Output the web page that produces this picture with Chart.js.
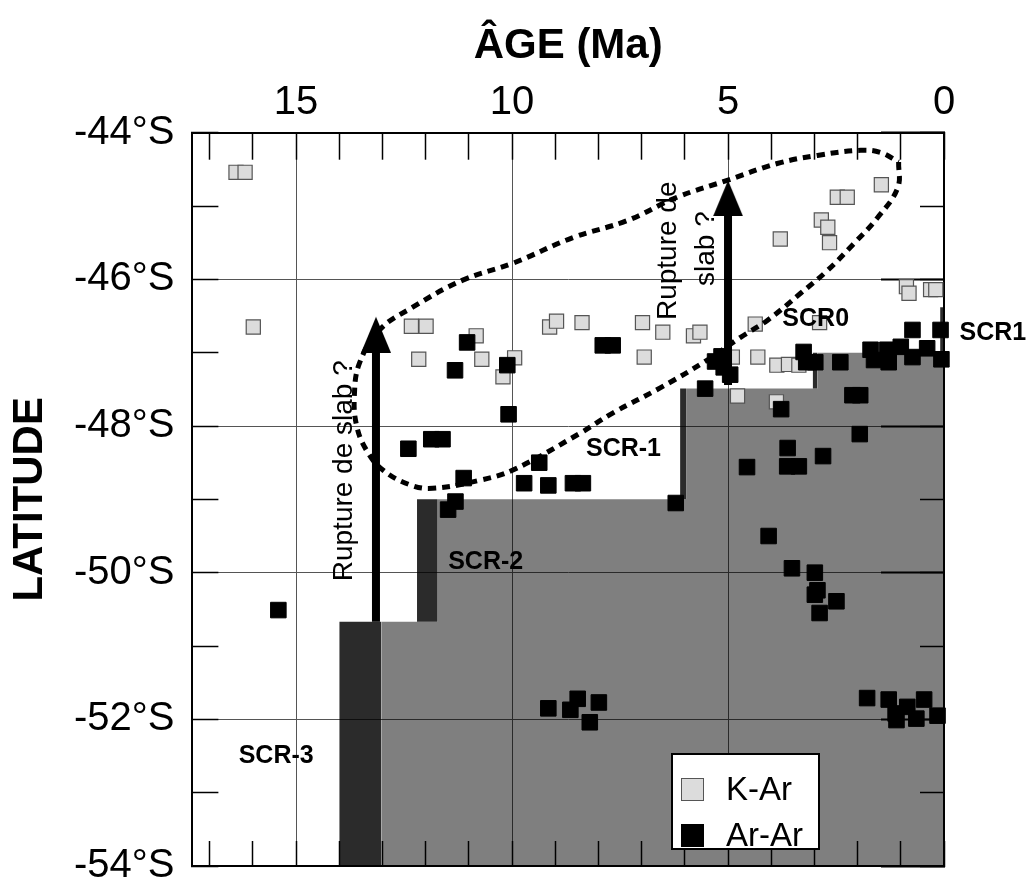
<!DOCTYPE html>
<html>
<head>
<meta charset="utf-8">
<script src="https://cdn.jsdelivr.net/npm/chart.js@4.4.1/dist/chart.umd.min.js"></script>
<style>
  html, body { margin: 0; background: #fff; overflow: hidden; }
  #wrap { position: relative; width: 1030px; height: 920px; }
  #legend {
    position: absolute; left: 671px; top: 753px; width: 149px; height: 97px;
    box-sizing: border-box; border: 2px solid #000; background: #fff;
    font-family: 'Liberation Sans', Arial, sans-serif; font-size: 33px; color: #000;
    padding: 11px 0 0 8px;
  }
  #legend div { display: flex; align-items: center; height: 46px; }
  #legend span.box { width: 23px; height: 23px; box-sizing: border-box; margin-right: 22px; }
</style>
</head>
<body>
<div id="wrap">
  <canvas id="chart" width="1030" height="920"></canvas>
  <div id="legend"></div>
</div>
<script>
// K-Ar ages (Ma) and latitudes (deg)
const kArAge = [16.39, 16.18, 15.99, 12.33, 11.99, 10.83, 12.16, 10.70, 9.94, 10.21,
  9.13, 8.97, 8.38, 6.98, 6.51, 6.94, 5.80, 5.65, 4.37, 2.88,
  0.87, 0.81, 0.31, 0.19, 4.31, 3.87, 3.60, 3.36, 4.90, 4.78,
  3.88, 1.45, 2.47, 2.24, 3.79, 2.84, 2.69, 2.65];
const kArLat = [-44.54, -44.54, -46.65, -46.64, -46.64, -46.77, -47.09, -47.09, -47.07, -47.33,
  -46.65, -46.57, -46.59, -46.59, -46.72, -47.06, -46.77, -46.72, -46.61, -46.59,
  -46.10, -46.19, -46.14, -46.14, -47.06, -47.17, -47.16, -47.17, -47.06, -47.59,
  -47.67, -44.71, -44.88, -44.88, -45.45, -45.19, -45.29, -45.50];

// Ar-Ar ages (Ma) and latitudes (deg)
const arArAge = [11.04, 11.32, 10.11, 10.08, 7.90, 7.67, 11.87, 11.61, 12.40, 11.12,
  9.37, 9.72, 9.16, 8.59, 8.36, 11.31, 11.48, 6.21, 15.41, 5.30,
  5.10, 4.95, 5.15, 5.53, 3.25, 3.19, 2.98, 2.40, 1.70, 1.62,
  1.31, 1.28, 1.00, 0.73, 0.73, 0.39, 0.08, 0.06, 2.12, 1.94,
  3.77, 1.95, 3.62, 2.80, 4.56, 3.63, 3.36, 4.06, 3.52, 2.99,
  2.99, 2.93, 2.49, 2.88, 9.16, 8.65, 8.48, 7.99, 8.20, 1.78,
  1.28, 1.12, 1.10, 0.85, 0.64, 0.46, 0.15];
const arArLat = [-46.86, -47.24, -47.17, -47.84, -46.90, -46.90, -48.18, -48.18, -48.31, -48.71,
  -48.50, -48.78, -48.81, -48.78, -48.78, -49.03, -49.14, -49.05, -50.51, -47.12,
  -47.20, -47.30, -47.05, -47.49, -46.99, -47.13, -47.13, -47.13, -46.96, -47.10,
  -46.96, -47.13, -46.92, -46.69, -47.06, -46.94, -46.69, -47.09, -47.58, -47.58,
  -47.77, -48.11, -48.30, -48.41, -48.56, -48.55, -48.55, -49.50, -49.94, -50.00,
  -50.30, -50.24, -50.39, -50.55, -51.85, -51.87, -51.72, -51.77, -52.04, -51.71,
  -51.73, -51.92, -52.01, -51.83, -51.99, -51.73, -51.95];

// slab window steps: light grey upper edge
const stepAge = [13.02, 11.72, 11.72, 5.97, 5.97, 2.93, 2.93, 0];
const stepLat = [-50.67, -50.67, -49.0, -49.0, -47.49, -47.49, -47.0, -47.0];

// dark strips SCR-3 .. SCR1
const stripFrom = [14.0, 12.2, 6.11, 3.04, 0.09];
const stripTo = [13.02, 11.72, 5.97, 2.93, 0];
const stripTop = [-50.67, -49.0, -47.49, -47.0, -46.38];
const stripBase = [-54, -50.67, -49.0, -47.49, -47.0];

// dotted envelope
const loopAge = [1.05, 1.07, 1.54, 2.10, 2.70, 3.32, 4.09, 4.71, 5.48, 6.57,
  7.66, 8.43, 9.98, 10.75, 11.84, 12.37, 12.99, 13.37, 13.60, 13.65,
  13.53, 13.07, 12.30, 11.14, 9.98, 8.59, 7.34, 6.18, 5.02, 3.86,
  2.93, 1.93, 1.47, 1.05];
const loopLat = [-44.40, -44.75, -45.16, -45.52, -45.88, -46.19, -46.56, -46.79, -47.10, -47.48,
  -47.82, -48.10, -48.60, -48.74, -48.85, -48.80, -48.60, -48.33, -47.99, -47.58,
  -47.14, -46.69, -46.38, -46.01, -45.78, -45.43, -45.20, -44.88, -44.65, -44.42,
  -44.31, -44.24, -44.27, -44.40];

// "Rupture de slab ?" arrows
const arrowAge = [13.15, 5.0];
const arrowBaseLat = [-50.67, -47.44];
const arrowTipLat = [-46.51, -44.65];

// annotations
const noteText = ['SCR-3', 'SCR-2', 'SCR-1', 'SCR0', 'SCR1', 'Rupture de slab ?', 'Rupture de', 'slab ?'];
const noteAge = [15.46, 10.61, 7.42, 2.97, -1.13, 13.88, 6.38, 5.50];
const noteLat = [-52.50, -49.86, -48.31, -46.54, -46.73, -48.61, -45.61, -45.58];
const noteBold = [true, true, true, true, true, false, false, false];
const noteAngle = [0, 0, 0, 0, 0, -90, -90, -90];

const FONT = "'Liberation Sans', Arial, Helvetica, sans-serif";
Chart.defaults.font.family = FONT;
Chart.defaults.color = '#000';

function pts(xs, ys) {
  return xs.map((v, i) => ({ x: v, y: ys[i] }));
}

function arrowHead() {
  const c = document.createElement('canvas');
  c.width = 30; c.height = 72;
  const g = c.getContext('2d');
  g.fillStyle = '#000';
  g.beginPath();
  g.moveTo(15, 36); g.lineTo(30, 72); g.lineTo(0, 72);
  g.closePath(); g.fill();
  return c;
}

const HEAD_DEG = 0.3;
const datasets = [];

arrowAge.forEach((a, i) => {
  datasets.push({
    data: [{ x: a, y: arrowBaseLat[i] }, { x: a, y: arrowTipLat[i] - HEAD_DEG }],
    borderColor: '#000', borderWidth: 8, borderCapStyle: 'butt',
    pointRadius: 0, fill: false, order: 0
  });
});
datasets.push({
  data: pts(arrowAge, arrowTipLat), showLine: false,
  pointStyle: arrowHead(), pointRadius: 10, order: 0, clip: false
});
datasets.push({
  label: 'Ar-Ar', data: pts(arArAge, arArLat), showLine: false,
  pointStyle: 'rect', pointRadius: 11, pointBackgroundColor: '#000',
  pointBorderColor: '#000', pointBorderWidth: 1,
  backgroundColor: '#000', borderColor: '#000', order: 1, clip: false
});
datasets.push({
  data: pts(loopAge, loopLat), borderColor: '#000', borderWidth: 5,
  borderDash: [8, 6], tension: 0.4, pointRadius: 0, fill: false, order: 2
});
datasets.push({
  label: 'K-Ar', data: pts(kArAge, kArLat), showLine: false,
  pointStyle: 'rect', pointRadius: 10, pointBackgroundColor: '#dcdcdc',
  pointBorderColor: '#555', pointBorderWidth: 1.2,
  backgroundColor: '#dcdcdc', borderColor: '#555', order: 3, clip: false
});
stripFrom.forEach((a, i) => {
  datasets.push({
    data: [{ x: a, y: stripTop[i] }, { x: stripTo[i], y: stripTop[i] }],
    borderColor: 'rgba(0,0,0,0)', borderWidth: 0, pointRadius: 0,
    backgroundColor: 'rgba(0,0,0,0.83)', fill: { value: stripBase[i] }, order: 4
  });
});
datasets.push({
  data: pts(stepAge, stepLat), borderColor: 'rgba(0,0,0,0)', borderWidth: 0,
  pointRadius: 0, backgroundColor: 'rgba(0,0,0,0.5)', fill: 'start', order: 5
});

const notesPlugin = {
  id: 'notes',
  afterDatasetsDraw(chart) {
    const { ctx, scales: { x, y } } = chart;
    noteText.forEach((t, i) => {
      ctx.save();
      ctx.translate(x.getPixelForValue(noteAge[i]), y.getPixelForValue(noteLat[i]));
      ctx.rotate(noteAngle[i] * Math.PI / 180);
      ctx.font = noteBold[i] ? 'bold 25px ' + FONT : '28px ' + FONT;
      ctx.fillStyle = '#000';
      ctx.textAlign = 'center';
      ctx.textBaseline = 'middle';
      ctx.fillText(t, 0, 0);
      ctx.restore();
    });
  }
};

const clear = 'rgba(0,0,0,0)';
const minorTicks = (len, pad, step, width) => ({
  grid: { drawOnChartArea: false, tickLength: len, tickColor: '#000', tickWidth: width },
  border: { color: '#000', width: 2 },
  ticks: { stepSize: step, maxTicksLimit: 40, includeBounds: false, padding: pad,
           font: { size: 1, lineHeight: 1 }, callback: () => '' }
});

new Chart(document.getElementById('chart'), {
  type: 'line',
  data: { datasets },
  plugins: [notesPlugin],
  options: {
    responsive: false,
    animation: false,
    events: [],
    layout: { padding: { top: 21, left: 50, right: 86, bottom: 28 } },
    plugins: { legend: { display: false }, tooltip: { enabled: false } },
    scales: {
      x: {
        type: 'linear', position: 'top', reverse: true, min: 0, max: 17.4,
        title: { display: true, text: 'ÂGE (Ma)', font: { size: 42, weight: 'bold' }, padding: { top: 0, bottom: -25.7 } },
        grid: {
          color: c => c.tick && c.tick.value % 5 === 0 ? '#555' : clear,
          lineWidth: 1, tickLength: -27, tickColor: '#000', tickWidth: 1.5
        },
        border: { color: '#000', width: 2 },
        ticks: {
          stepSize: 1, maxTicksLimit: 40, includeBounds: false, padding: 33,
          font: { size: 40 }, maxRotation: 0, autoSkip: false,
          callback: v => v % 5 === 0 ? String(v) : ''
        }
      },
      xb: Object.assign({ type: 'linear', position: 'bottom', reverse: true, min: 0, max: 17.4 },
        minorTicks(-25, 25, 1, 1.5)),
      y: {
        type: 'linear', position: 'left', min: -54, max: -44,
        title: { display: true, text: 'LATITUDE', font: { size: 42, weight: 'bold' }, padding: { top: -45.2, bottom: -25.3 } },
        grid: {
          color: c => c.tick && c.tick.value % 2 === 0 ? '#555' : clear,
          lineWidth: 1, tickLength: -26, tickColor: '#000', tickWidth: 1.5
        },
        border: { color: '#000', width: 2 },
        ticks: {
          stepSize: 1, maxTicksLimit: 40, padding: 44, autoSkip: false,
          font: { size: 40, lineHeight: 0.5 },
          callback: v => v % 2 === 0 ? v + '°S' : ''
        }
      },
      yr: Object.assign({ type: 'linear', position: 'right', min: -54, max: -44 },
        minorTicks(-24, 12, 1, 1.5)),
      yr2: Object.assign({ type: 'linear', position: 'right', min: -54, max: -44 },
        minorTicks(-63, 31.5, 2, 2))
    }
  }
});

// legend box inside the plot
const legend = document.getElementById('legend');
datasets.filter(d => d.label).reverse().forEach(d => {
  const row = document.createElement('div');
  const box = document.createElement('span');
  box.className = 'box';
  box.style.background = d.pointBackgroundColor;
  box.style.border = '1px solid ' + d.pointBorderColor;
  row.appendChild(box);
  row.appendChild(document.createTextNode(d.label));
  legend.appendChild(row);
});
</script>
</body>
</html>
